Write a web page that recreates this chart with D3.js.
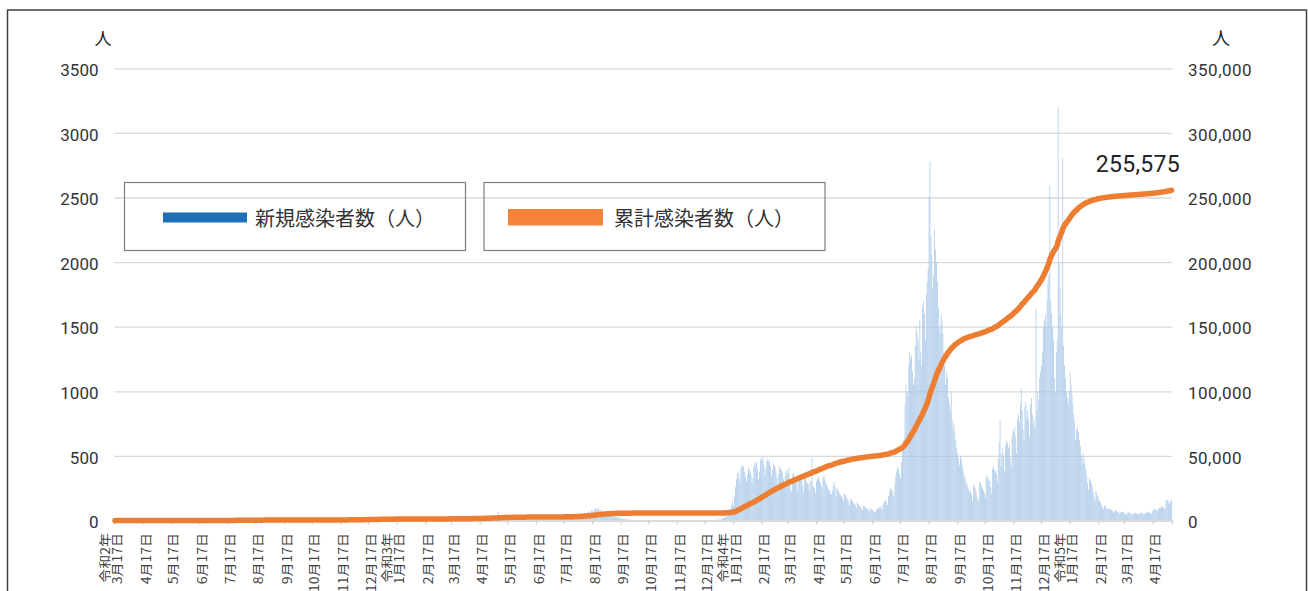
<!DOCTYPE html>
<html><head><meta charset="utf-8">
<script src="https://cdn.jsdelivr.net/npm/d3@7"></script>
<style>body{margin:0;background:#fff}</style>
</head><body><svg id="c" width="1308" height="591"></svg>
<script>
// Daily new cases (2020-03-17 .. 2023-05-07)
const newCases2020 = [
0,0,1,0,0,0,0,1,0,0,2,0,1,0,0,
1,0,2,3,1,0,4,2,1,3,5,2,0,1,3,2,1,0,2,1,0,1,0,1,0,0,1,0,0,0,
0,0,0,1,0,0,0, 0,0,0,0,0,0,0, 0,0,0,0,0,0,0, 0,0,0,0,0,0,0, 0,0,0,
0,0,0,0,0,0,0, 0,0,0,0,0,0,0, 0,0,0,0,0,0,0, 0,0,0,0,0,0,0, 1,0,
0,0,0,0,0,0,0,0, 1,0,0,2,1,0,3, 2,1,4,2,5,3,6, 4,8,5,7,6,9,10, 8,6,
9,12,8,10,7,11,6, 9,8,5,7,10,6,4, 5,8,3,4,6,2,3, 5,1,2,3,4,1,0, 2,1,3,
1,0,2,1,0,1,0, 0,1,2,0,1,0,0, 1,0,0,2,1,0,0, 1,0,0,1,0,0,0, 1,0,
0,1,0,0,2,1,0, 1,3,0,1,2,0,1, 0,2,1,0,3,1,2, 0,1,2,3,1,0,2, 4,1,2,
2,1,3,2,3,2,4, 4,3,5,3,5,6,4, 6,4,7,5,8,6,5, 7,6,8,7,9,6,8, 9,7,
10,8,12,9,14,11,7, 13,15,11,17,13,9,14, 16,12,18,14,11,16,13, 19,15,17,12,9,14,12, 8,10,6
];
const newCases2021 = [
8,12,10,14,16,13,11, 15,13,10,8,11,9,12, 9,7,10,7,6,8,6, 5,7,4,6,4,5,3, 4,3,4,
6,4,5,3,7,2,4, 3,5,2,1,3,4,2, 1,3,2,0,2,1,3, 1,0,2,1,2,0,1,
1,2,0,3,1,2,4, 2,3,1,5,2,4,3, 6,2,5,4,7,3,6, 8,5,4,9,6,10,7, 8,11,9,
8,7,10,6,11,9,13, 10,14,12,8,15,13,18, 15,20,17,13,21,18,23, 20,25,19,15,27,22,28, 25,21,
30,25,20,32,27,36,68, 34,28,31,25,35,29,23, 27,20,24,18,21,15,19, 13,17,12,14,10,13,9, 11,8,10,
10,12,8,9,7,11,6, 8,5,7,4,6,5,3, 4,6,2,3,5,2,4, 1,3,2,4,3,1,2, 3,2,
1,3,2,4,2,5,3, 6,4,7,5,8,6,9, 11,8,12,10,14,11,16, 13,18,20,15,22,25,21, 28,30,26,
35,40,32,45,50,42,38, 55,60,48,52,65,72,58, 62,80,75,68,85,95,88, 78,100,92,70,82,76,66, 60,72,55,
58,48,52,40,36,44,38, 30,34,28,25,22,26,18, 20,16,14,12,15,10,8, 11,7,9,6,5,4,6, 3,4,
3,2,1,2,0,1,1, 0,2,1,0,1,0,0, 1,0,0,1,0,0,0, 1,0,0,0,0,1,0, 0,0,0,
0,0,1,0,0,0,0, 0,0,1,0,0,0,0, 0,0,0,0,0,0,0, 1,0,0,0,0,0,0, 0,0,
0,0,0,0,1,0,0, 0,0,0,0,0,0,0, 0,0,1,0,0,0,0, 1,0,0,1,2,1,3, 5,4,8
];
const newCases2022 = [
5,8,6,10,15,22,20, 28,35,30,45,60,80,95, 120,150,110,180,260,320,360, 380,330,290,400,430,410,420, 380,340,300,
360,410,395,380,350,290,330, 420,445,430,455,400,320,380, 470,485,460,490,430,350,400, 460,480,450,470,420,340,390,
440,430,410,380,330,270,360, 420,400,390,370,320,260,340, 390,380,360,410,300,240,220, 350,370,340,330,290,230,310, 340,330,320,
310,270,220,330,320,300,290, 280,230,310,300,485,270,260, 250,210,305,320,340,310,290, 270,240,330,350,320,300,280, 260,230,
240,210,200,230,270,300,260, 180,250,240,230,210,200,190, 170,150,210,200,190,175,160, 140,120,165,160,150,140,130, 120,100,140,
130,120,110,105,90,80,115, 110,100,95,90,80,70,95, 90,85,80,75,65,60,85, 95,90,100,110,95,85,120, 135,150,
160,140,120,190,220,250,240, 230,200,180,290,350,380,420, 400,360,330,450,560,620,640, 900,1050,1000,950,1200,1300,1250, 1280,1150,1050,
1100,1350,1500,1450,1400,1250,1550, 1300,1200,1650,1700,1600,1400,1750, 1850,1950,2500,2780,2200,2050,1800, 1900,2250,2100,2000,1850,1650,1500, 1450,1600,1550,
1450,1300,1200,1050,1150,1100,950, 900,850,1000,780,700,750,680, 620,560,520,480,430,500,470, 420,380,350,330,300,280,260, 240,220,
230,200,150,260,280,250,220, 190,160,150,300,290,270,250, 230,210,180,330,350,320,310, 300,260,210,400,420,390,380, 360,300,480,
600,780,420,520,560,490,380, 580,620,600,560,590,480,420, 650,700,680,720,640,520,780, 820,760,900,1020,850,700,620, 880,920,
800,850,780,650,900,950,820, 740,780,720,1640,850,1000,930, 1100,1150,1200,1300,1500,1550,1600, 1500,1700,1850,1900,2590,1700,1600, 1500,1400,1100
];
const newCases2023 = [
1000,1300,1400,3200,2000,1800,1600, 1500,2800,1350,1200,1100,1000,950, 900,1000,1150, 1050,980,900,820,760,620,700, 720,680,620,580,500,430,520,
480,440,400,350,290,240,330, 310,290,260,220,180,150,230, 210,190,170, 150,140,120,100,90,110,120, 100,90,80,95,
90,85,80,75,60,70,80, 75,70,65,60,50,65,70, 68,62,55,48,45,60,65, 62,58,52,45,50,55,60, 58,55,50,
45,55,60,58,62,55,50, 48,60,65,62,68,60,55, 52,70,85,82,90,88,80, 75,95,100,98,105,110,100, 95,90,
150,160,155,140,130,145,159
];

const startDate = "2020-03-17";
const leftTicks = [0, 500, 1000, 1500, 2000, 2500, 3000, 3500];
const rightTicks = [0, 50000, 100000, 150000, 200000, 250000, 300000, 350000];
const eraLabelDates = ["2020-03-17", "2021-01-17", "2022-01-17", "2023-01-17"];
const eraLabels = ["令和2年", "令和3年", "令和4年", "令和5年"];
const seriesNames = ["新規感染者数（人）", "累計感染者数（人）"];
const unitLabel = "人";
const finalLabel = "255,575";

const newCases = [].concat(newCases2020, newCases2021, newCases2022, newCases2023);
const parse = d3.timeParse("%Y-%m-%d");
const fmt = d3.timeFormat("%Y-%m-%d");
const dates = newCases.map((_, i) => fmt(d3.timeDay.offset(parse(startDate), i)));
const cumulative = Array.from(d3.cumsum(newCases));

const W = 1308, H = 591;
const plotL = 114.5, plotR = 1172, plotT = 68.3, plotB = 520.5;
const numFont = "Roboto, 'Liberation Sans', sans-serif";
const jpFont = "'Noto Sans CJK JP', 'Noto Sans', sans-serif";

const svg = d3.select("#c");
svg.append("rect").attr("width", W).attr("height", H).attr("fill", "#fff");
svg.append("rect").attr("x", 7.5).attr("y", 10).attr("width", 1299).attr("height", 640)
  .attr("fill", "none").attr("stroke", "#404040").attr("stroke-width", 1.5);

const x = d3.scaleBand().domain(dates).range([plotL, plotR]).padding(0);
const yL = d3.scaleLinear().domain([0, 3500]).range([plotB, plotT]);
const yR = d3.scaleLinear().domain([0, 350000]).range([plotB, plotT]);

// gridlines + left labels
const gL = svg.append("g").attr("transform", `translate(${plotL},0)`)
  .call(d3.axisLeft(yL).tickValues(leftTicks).tickSize(-(plotR - plotL)).tickPadding(16).tickFormat(d3.format("d")));
gL.select(".domain").remove();
gL.selectAll(".tick line").attr("stroke", "#d9d9d9").attr("stroke-width", 1.3);
gL.selectAll(".tick text").attr("font-family", numFont).attr("font-size", 17).attr("fill", "#333").attr("dy", "0.42em");

// right labels
const gR = svg.append("g").attr("transform", `translate(${plotR},0)`)
  .call(d3.axisRight(yR).tickValues(rightTicks).tickSize(0).tickPadding(16).tickFormat(d3.format(",")));
gR.select(".domain").remove();
gR.selectAll(".tick text").attr("font-family", numFont).attr("font-size", 17).attr("fill", "#333")
  .attr("dy", "0.42em").attr("letter-spacing", 0.5);

// bars
const bw = x.bandwidth();
svg.append("g").selectAll("rect").data(newCases).join("rect")
  .attr("x", (d, i) => x(dates[i]) + bw * 0.1)
  .attr("width", bw * 0.8)
  .attr("y", d => yL(d))
  .attr("height", d => yL(0) - yL(d))
  .attr("fill", "#a9c8e8");

// x axis
const tickDates = dates.filter(d => d.slice(8) === "17");
const gX = svg.append("g").attr("transform", `translate(0,${plotB})`)
  .call(d3.axisBottom(x).tickValues(tickDates).tickSize(4).tickFormat(""));
gX.select(".domain").attr("stroke", "#d9d9d9").attr("stroke-width", 2);
gX.selectAll(".tick line").attr("stroke", "#d0d0d0").attr("stroke-width", 1.2);
gX.selectAll(".tick").each(function(d) {
  const g = d3.select(this);
  const m = +d.slice(5, 7);
  g.append("text").attr("transform", "translate(2,12.5) rotate(-90) scale(1.12,1)")
    .attr("text-anchor", "end").attr("dominant-baseline", "central")
    .attr("font-family", jpFont).attr("font-size", 12.5).attr("fill", "#404040")
    .text(`${m}月17日`);
  const ei = eraLabelDates.indexOf(d);
  if (ei >= 0) {
    g.append("text").attr("transform", "translate(-10.5,12.5) rotate(-90) scale(1.12,1)")
      .attr("text-anchor", "end").attr("dominant-baseline", "central")
      .attr("font-family", jpFont).attr("font-size", 12.5).attr("fill", "#404040")
      .text(eraLabels[ei]);
  }
});

// cumulative line
const line = d3.line().x((d, i) => x(dates[i]) + bw / 2).y(d => yR(d));
svg.append("path").datum(cumulative).attr("d", line)
  .attr("fill", "none").attr("stroke", "#ed7d31").attr("stroke-width", 5.5)
  .attr("stroke-linejoin", "round").attr("stroke-linecap", "round");

// final label
svg.append("text").attr("x", 1180).attr("y", 171.5).attr("text-anchor", "end")
  .attr("font-family", numFont).attr("font-size", 23).attr("fill", "#222").attr("letter-spacing", 0.3)
  .text(finalLabel);

// unit labels
svg.append("text").attr("x", 103).attr("y", 37.5).attr("text-anchor", "middle").attr("dominant-baseline", "central")
  .attr("font-family", jpFont).attr("font-size", 17).attr("fill", "#222").text(unitLabel);
svg.append("text").attr("x", 1221).attr("y", 37).attr("text-anchor", "middle").attr("dominant-baseline", "central")
  .attr("font-family", jpFont).attr("font-size", 18).attr("fill", "#222").text(unitLabel);

// legend
const legendBoxes = [
  {x: 124.5, sw: [163, 247], sh: [212.5, 222.5], tx: 255, color: "#1f6fb5"},
  {x: 484, sw: [508, 603], sh: [209, 225.5], tx: 614, color: "#f4843a"}
];
legendBoxes.forEach((b, i) => {
  svg.append("rect").attr("x", b.x).attr("y", 182.5).attr("width", 341).attr("height", 68)
    .attr("fill", "none").attr("stroke", "#7f7f7f").attr("stroke-width", 1.2);
  svg.append("rect").attr("x", b.sw[0]).attr("y", b.sh[0]).attr("width", b.sw[1] - b.sw[0]).attr("height", b.sh[1] - b.sh[0])
    .attr("fill", b.color);
  svg.append("text").attr("x", b.tx).attr("y", 217).attr("dominant-baseline", "central")
    .attr("font-family", jpFont).attr("font-size", 20).attr("fill", "#333").text(seriesNames[i]);
});
</script></body></html>
